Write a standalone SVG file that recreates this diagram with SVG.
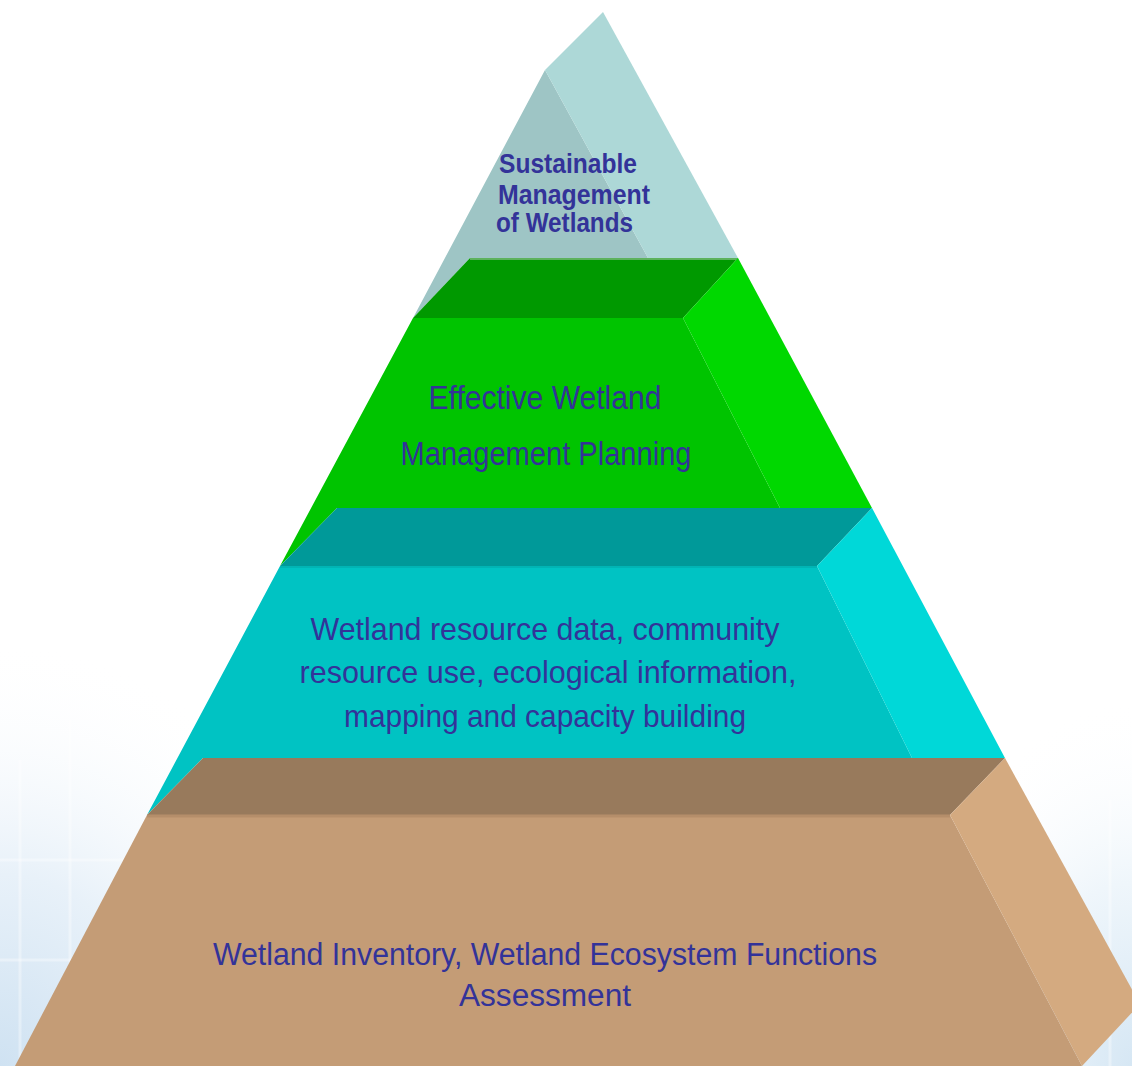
<svg xmlns="http://www.w3.org/2000/svg" width="1132" height="1066" viewBox="0 0 1132 1066">
<defs>
<radialGradient id="bgL" cx="0" cy="1" r="1">
<stop offset="0" stop-color="#CFE2F2"/>
<stop offset="0.45" stop-color="#E8F1F9"/>
<stop offset="1" stop-color="#FFFFFF" stop-opacity="0"/>
</radialGradient>
<radialGradient id="bgR" cx="1" cy="1" r="1">
<stop offset="0" stop-color="#D6E7F4"/>
<stop offset="0.5" stop-color="#EFF6FB"/>
<stop offset="1" stop-color="#FFFFFF" stop-opacity="0"/>
</radialGradient>
</defs>
<style>
.lbl{font-family:"Liberation Sans",Arial,sans-serif;fill:#333399;text-anchor:middle}
.top{font-weight:bold;text-anchor:start}
</style>
<rect width="1132" height="1066" fill="#FFFFFF"/>
<g id="background">
<rect x="0" y="640" width="360" height="426" fill="url(#bgL)"/>
<rect x="900" y="700" width="232" height="366" fill="url(#bgR)"/>
<g stroke="#FFFFFF" stroke-opacity="0.35" stroke-width="3">
<line x1="20" y1="760" x2="20" y2="1066"/>
<line x1="70" y1="720" x2="70" y2="1066"/>
<line x1="0" y1="860" x2="140" y2="860"/>
<line x1="0" y1="960" x2="100" y2="960"/>
<line x1="1110" y1="800" x2="1110" y2="1066"/>
</g>
</g>
<g id="tier-1">
<polygon points="545,70 648,258 470,258 413,318" fill="#9EC5C5"/>
<polygon points="545,70 603,12 738,258 648,258" fill="#ADD8D7"/>
<text class="lbl top" x="499" y="173" font-size="27" textLength="138" lengthAdjust="spacingAndGlyphs">Sustainable</text>
<text class="lbl top" x="498" y="204" font-size="27" textLength="152" lengthAdjust="spacingAndGlyphs">Management</text>
<text class="lbl top" x="496" y="232" font-size="27" textLength="137" lengthAdjust="spacingAndGlyphs">of Wetlands</text>
</g>
<g id="tier-2">
<polygon points="470,258 738,258 683,318 413,318" fill="#009900"/>
<line x1="470" y1="259" x2="738" y2="259" stroke="#5DB25D" stroke-width="2"/>
<polygon points="413,318 683,318 780,508 337,508 280,566" fill="#00C400"/>
<polygon points="738,258 872,508 780,508 683,318" fill="#00D800"/>
<text class="lbl" x="545" y="409" font-size="33" textLength="233" lengthAdjust="spacingAndGlyphs">Effective Wetland</text>
<text class="lbl" x="546" y="465" font-size="33" textLength="291" lengthAdjust="spacingAndGlyphs">Management Planning</text>
</g>
<g id="tier-3">
<polygon points="337,508 872,508 817,566 280,566" fill="#009999"/>
<polygon points="280,566 817,566 912,758 203,758 147,815" fill="#00C3C3"/>
<line x1="280" y1="567" x2="817" y2="567" stroke="#00B5B5" stroke-width="2"/>
<polygon points="872,508 1005,758 912,758 817,566" fill="#00D8D8"/>
<text class="lbl" x="545" y="640" font-size="32" textLength="469" lengthAdjust="spacingAndGlyphs">Wetland resource data, community</text>
<text class="lbl" x="548" y="683" font-size="32" textLength="497" lengthAdjust="spacingAndGlyphs">resource use, ecological information,</text>
<text class="lbl" x="545" y="727" font-size="32" textLength="402" lengthAdjust="spacingAndGlyphs">mapping and capacity building</text>
</g>
<g id="tier-4">
<polygon points="203,758 1005,758 950,815 147,815" fill="#987A5C"/>
<polygon points="147,815 950,815 1082,1066 15,1066" fill="#C49C76"/>
<line x1="147" y1="816" x2="950" y2="816" stroke="#B58E6A" stroke-width="3"/>
<polygon points="1005,758 1140,1004 1082,1066 950,815" fill="#D4AA80"/>
<text class="lbl" x="545" y="965" font-size="31" textLength="664" lengthAdjust="spacingAndGlyphs">Wetland Inventory, Wetland Ecosystem Functions</text>
<text class="lbl" x="545" y="1006" font-size="31" textLength="172" lengthAdjust="spacingAndGlyphs">Assessment</text>
</g>
<g id="connectors"/>
</svg>
